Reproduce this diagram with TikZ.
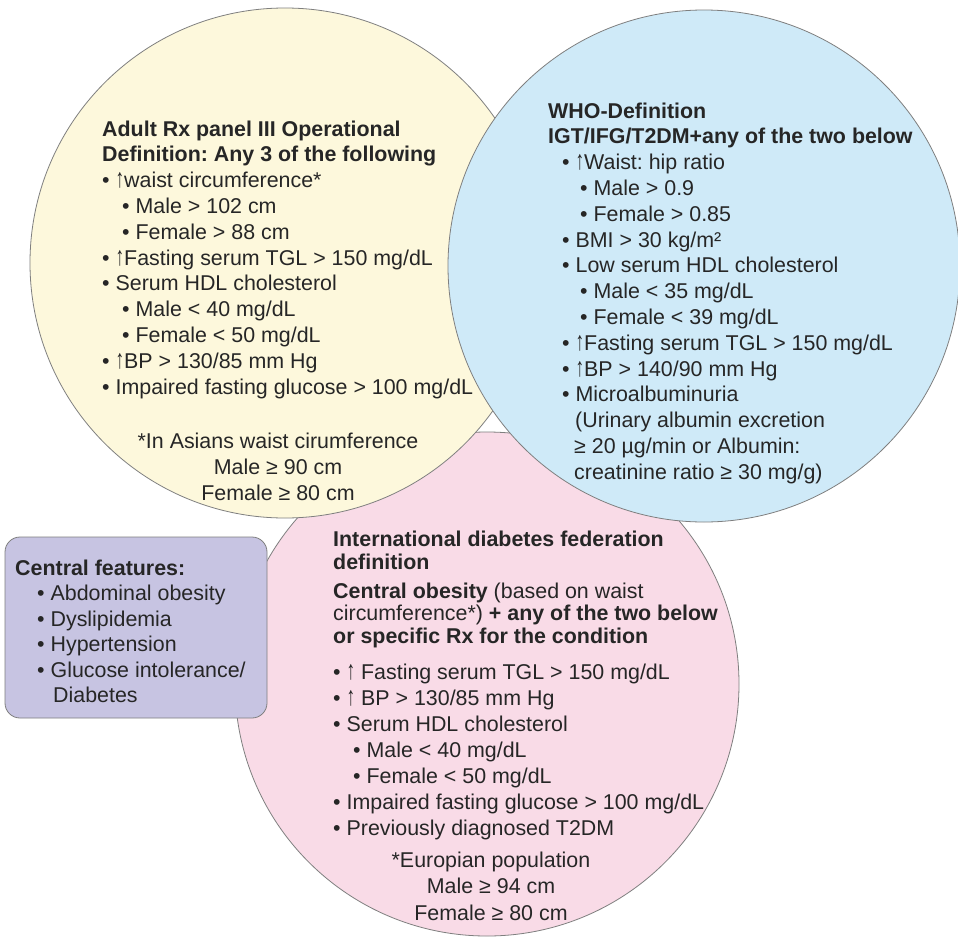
\documentclass[tikz,border=0pt]{standalone}
\usepackage{graphicx}
\usepackage{fontspec}
\setmainfont{Liberation Sans}
\frenchspacing
\definecolor{ycol}{HTML}{FDF8DC}
\definecolor{bcol}{HTML}{CFEAF8}
\definecolor{pcol}{HTML}{F9DBE7}
\definecolor{boxcol}{HTML}{C7C4E2}
\definecolor{edge}{HTML}{7F7F7F}
\newcommand\bodyfont{\fontsize{21.4}{25}\selectfont}
\newcommand\uparr{\scalebox{0.8}[1.25]{↑}}
\begin{document}
\begin{tikzpicture}[x=1pt,y=-1pt,
  ln/.style={anchor=base west, inner sep=0pt, font=\bodyfont, text=black!85},
  lc/.style={anchor=base, inner sep=0pt, font=\bodyfont, text=black!85},
  ring/.style={draw=edge, line width=0.8pt}]
\useasboundingbox (0,0) rectangle (958,937);
% circles
\fill[white] (0,0) rectangle (958,937);
\filldraw[ring, fill=pcol] (487,684) circle[radius=252pt];
\filldraw[ring, fill=ycol] (285,263) circle[radius=255pt];
\filldraw[ring, fill=bcol] (704,266) circle[radius=256pt];
\filldraw[ring, fill=boxcol, rounded corners=15pt] (5,537) rectangle (267,718);
% yellow: ATP III
\node[ln] (y1) at (102,136) {\textbf{Adult Rx panel III Operational}};
\node[ln] (y2) at (102,161.8) {\textbf{Definition: Any 3 of the following}};
\node[ln] (y3) at (102,187.6) {• \uparr waist circumference*};
\node[ln] (y4) at (122,213.4) {• Male > 102 cm};
\node[ln] (y5) at (122,239.2) {• Female > 88 cm};
\node[ln] (y6) at (102,265) {• \uparr Fasting serum TGL > 150 mg/dL};
\node[ln] (y7) at (102,290.8) {• Serum HDL cholesterol};
\node[ln] (y8) at (122,316.6) {• Male < 40 mg/dL};
\node[ln] (y9) at (122,342.4) {• Female < 50 mg/dL};
\node[ln] (y10) at (102,368.2) {• \uparr BP > 130/85 mm Hg};
\node[ln] (y11) at (102,394) {• Impaired fasting glucose > 100 mg/dL};
\node[lc] (y12) at (278,448) {*In Asians waist cirumference};
\node[lc] (y13) at (278,474) {Male ≥ 90 cm};
\node[lc] (y14) at (278,500) {Female ≥ 80 cm};
% blue: WHO
\node[ln] (b1) at (548,118) {\textbf{WHO-Definition}};
\node[ln] (b2) at (548,143.8) {\textbf{IGT/IFG/T2DM+any of the two below}};
\node[ln] (b3) at (562,169.6) {• \uparr Waist: hip ratio};
\node[ln] (b4) at (580,195.4) {• Male > 0.9};
\node[ln] (b5) at (580,221.2) {• Female > 0.85};
\node[ln] (b6) at (562,247) {• BMI > 30 kg/m²};
\node[ln] (b7) at (562,272.8) {• Low serum HDL cholesterol};
\node[ln] (b8) at (580,298.6) {• Male < 35 mg/dL};
\node[ln] (b9) at (580,324.4) {• Female < 39 mg/dL};
\node[ln] (b10) at (562,350.2) {• \uparr Fasting serum TGL > 150 mg/dL};
\node[ln] (b11) at (562,376) {• \uparr BP > 140/90 mm Hg};
\node[ln] (b12) at (562,401.8) {• Microalbuminuria};
\node[ln] (b13) at (575,427.6) {(Urinary albumin excretion};
\node[ln] (b14) at (574,453.4) {≥ 20 µg/min or Albumin:};
\node[ln] (b15) at (574,479.2) {creatinine ratio ≥ 30 mg/g)};
% pink: IDF
\node[ln] (p1) at (333,546.7) {\textbf{International diabetes federation}};
\node[ln] (p2) at (333,569.5) {\textbf{definition}};
\node[ln] (p3) at (333,598) {\textbf{Central obesity} (based on waist};
\node[ln] (p4) at (333,620.5) {circumference*) \textbf{+ any of the two below}};
\node[ln] (p5) at (333,643) {\textbf{or specific Rx for the condition}};
\node[ln] (p6) at (333,679) {• \uparr{} Fasting serum TGL > 150 mg/dL};
\node[ln] (p7) at (333,705) {• \uparr{} BP > 130/85 mm Hg};
\node[ln] (p8) at (333,731) {• Serum HDL cholesterol};
\node[ln] (p9) at (353,757) {• Male < 40 mg/dL};
\node[ln] (p10) at (353,783) {• Female < 50 mg/dL};
\node[ln] (p11) at (333,809) {• Impaired fasting glucose > 100 mg/dL};
\node[ln] (p12) at (333,835) {• Previously diagnosed T2DM};
\node[lc] (p13) at (491,867) {*Europian population};
\node[lc] (p14) at (491,893) {Male ≥ 94 cm};
\node[lc] (p15) at (491,920) {Female ≥ 80 cm};
% box: central features
\node[ln] (c1) at (15,575) {\textbf{Central features:}};
\node[ln] (c2) at (37,600.5) {• Abdominal obesity};
\node[ln] (c3) at (37,626) {• Dyslipidemia};
\node[ln] (c4) at (37,651.5) {• Hypertension};
\node[ln] (c5) at (37,677) {• Glucose intolerance/};
\node[ln] (c6) at (53,702.5) {Diabetes};
\end{tikzpicture}
\end{document}
